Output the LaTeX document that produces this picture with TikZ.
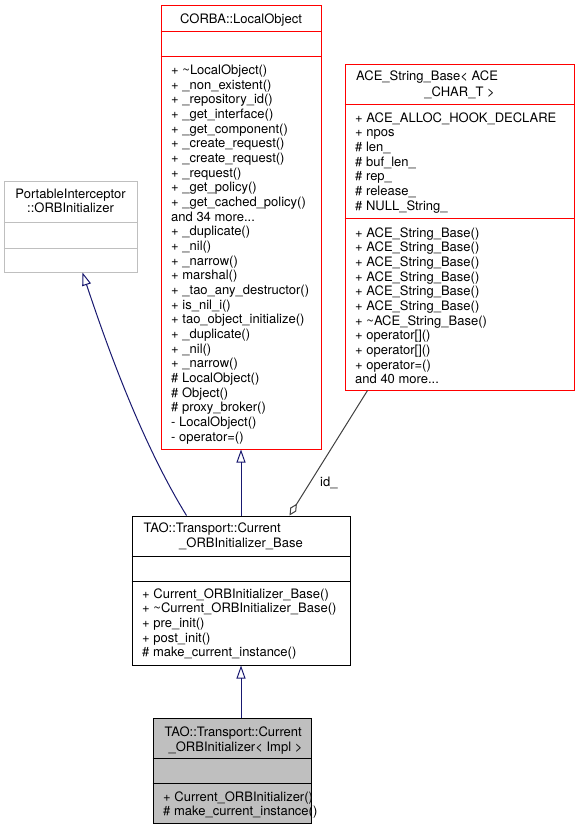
\documentclass[tikz,border=0pt]{standalone}
\usepackage{fontspec}
\setmainfont{TeX Gyre Heros}
\usetikzlibrary{arrows.meta,calc}

\definecolor{inheritblue}{HTML}{191970}
\definecolor{usegray}{HTML}{404040}
\definecolor{boxgray}{HTML}{BFBFBF}

\begin{document}
\begin{tikzpicture}[x=1pt, y=-1pt,
    every node/.style={font=\fontsize{13}{14.67}\selectfont, inner sep=0pt},
    classbox/.style={draw, line width=1pt},
    member/.style={anchor=north west, align=left},
    titleleft/.style={anchor=base west},
    titlemid/.style={anchor=base},
    inherit/.style={draw=inheritblue, line width=1pt, -{Triangle[open, length=13pt, width=9pt]}},
    aggregate/.style={draw=usegray, line width=1pt, {Diamond[open, length=14pt, width=7pt]}-}]
    \useasboundingbox (0,0) rectangle (580,829);

    % CORBA::LocalObject
    \node[classbox, draw=red, minimum width=160pt, minimum height=443pt] (lo) at (241,227.5) {};
    \draw[red, line width=1pt] (lo.west |- 0,32) -- (lo.east |- 0,32);
    \draw[red, line width=1pt] (lo.west |- 0,57) -- (lo.east |- 0,57);
    \node[titlemid] (lo-title) at (241,23.3) {CORBA::LocalObject};
    \node[member] (lo-ops) at (171,64.6) {+ \textasciitilde LocalObject()\\
        + \_non\_existent()\\ + \_repository\_id()\\ + \_get\_interface()\\
        + \_get\_component()\\ + \_create\_request()\\ + \_create\_request()\\
        + \_request()\\ + \_get\_policy()\\ + \_get\_cached\_policy()\\
        and 34 more...\\ + \_duplicate()\\ + \_nil()\\ + \_narrow()\\
        + marshal()\\ + \_tao\_any\_destructor()\\ + is\_nil\_i()\\
        + tao\_object\_initialize()\\ + \_duplicate()\\ + \_nil()\\
        + \_narrow()\\ \# LocalObject()\\ \# Object()\\ \# proxy\_broker()\\
        - LocalObject()\\ - operator=()};

    % PortableInterceptor::ORBInitializer
    \node[classbox, draw=boxgray, minimum width=133pt, minimum height=90pt] (pi) at (70.5,227) {};
    \draw[boxgray, line width=1pt] (pi.west |- 0,222) -- (pi.east |- 0,222);
    \draw[boxgray, line width=1pt] (pi.west |- 0,248) -- (pi.east |- 0,248);
    \node[titlemid] (pi-title1) at (70.5,198.5) {PortableInterceptor};
    \node[titlemid] (pi-title2) at (70.5,212.7) {::ORBInitializer};

    % ACE_String_Base
    \node[classbox, draw=red, minimum width=229pt, minimum height=325pt] (ace) at (459.5,227.5) {};
    \draw[red, line width=1pt] (ace.west |- 0,105) -- (ace.east |- 0,105);
    \draw[red, line width=1pt] (ace.west |- 0,218) -- (ace.east |- 0,218);
    \node[titleleft] (ace-title1) at (356,81) {ACE\_String\_Base< ACE};
    \node[titlemid] (ace-title2) at (459.5,96.5) {\_CHAR\_T >};
    \node[member] (ace-attr) at (355,112.3) {+ ACE\_ALLOC\_HOOK\_DECLARE\\
        + npos\\ \# len\_\\ \# buf\_len\_\\ \# rep\_\\ \# release\_\\
        \# NULL\_String\_};
    \node[member] (ace-ops) at (355,227.1) {+ ACE\_String\_Base()\\
        + ACE\_String\_Base()\\ + ACE\_String\_Base()\\ + ACE\_String\_Base()\\
        + ACE\_String\_Base()\\ + ACE\_String\_Base()\\
        + \textasciitilde ACE\_String\_Base()\\ + operator[]()\\
        + operator[]()\\ + operator=()\\ and 40 more...};

    % TAO::Transport::Current_ORBInitializer_Base
    \node[classbox, minimum width=218pt, minimum height=149pt] (base) at (241,590.5) {};
    \draw[line width=1pt] (base.west |- 0,556) -- (base.east |- 0,556);
    \draw[line width=1pt] (base.west |- 0,581) -- (base.east |- 0,581);
    \node[titleleft] (base-title1) at (143.5,532.7) {TAO::Transport::Current};
    \node[titlemid] (base-title2) at (241,547) {\_ORBInitializer\_Base};
    \node[member] (base-ops) at (142,588.3) {+ Current\_ORBInitializer\_Base()\\
        + \textasciitilde Current\_ORBInitializer\_Base()\\ + pre\_init()\\
        + post\_init()\\ \# make\_current\_instance()};

    % TAO::Transport::Current_ORBInitializer< Impl >
    \node[classbox, fill=boxgray, minimum width=158pt, minimum height=105pt] (impl) at (232,770.5) {};
    \draw[line width=1pt] (impl.west |- 0,758) -- (impl.east |- 0,758);
    \draw[line width=1pt] (impl.west |- 0,783) -- (impl.east |- 0,783);
    \node[titleleft] (impl-title1) at (164.5,736) {TAO::Transport::Current};
    \node[titlemid] (impl-title2) at (235.5,751.3) {\_ORBInitializer< Impl >};
    \node[member] (impl-ops) at (163,791.3) {+ Current\_ORBInitializer()\\
        \# make\_current\_instance()};

    % edges
    \draw[inherit] (base.north) -- (lo.south);
    \draw[inherit] (base.south |- impl.north) -- (base.south);
    \draw[inherit] ($(base.north west)+(55,0)$) .. controls (140,440) and (105,340) .. ($(pi.south)+(12,0)$);
    \draw[aggregate] ($(base.north west)+(158,0)$) -- ($(ace.south west)+(23,0)$);
    \node[titleleft] (id-label) at (320,486) {id\_};
\end{tikzpicture}
\end{document}
